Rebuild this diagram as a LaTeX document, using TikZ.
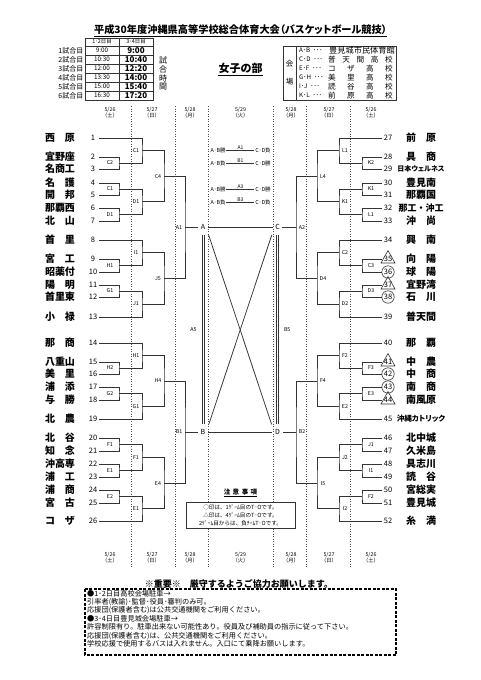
\documentclass[tikz,border=0pt]{standalone}
\usepackage{fontspec}
\setmainfont{Noto Sans CJK JP}
\newfontfamily\jpp{Noto Sans CJK JP}[RawFeature=+palt]
\usetikzlibrary{calc}
\tikzset{
  br/.style={line width=0.75pt, draw=black!80},
  dsh/.style={line width=0.55pt, draw=black!70, dash pattern=on 1.4pt off 1.1pt},
  num/.style={font=\fontsize{7.5}{8}\selectfont, inner sep=0pt},
  tname/.style={font=\fontsize{10}{10}\selectfont\bfseries, inner sep=0pt},
  lab/.style={font=\fontsize{5.3}{6}\selectfont, inner sep=0pt},
  cl/.style={font=\fontsize{7}{7}\selectfont, inner sep=2.5pt},
  dt/.style={font=\fontsize{5.3}{6.2}\selectfont, align=center, inner sep=0pt},
  sm/.style={font=\fontsize{5.4}{6}\selectfont, inner sep=0.8pt},
  mk/.style={line width=0.6pt, draw=black!80},
  tb/.style={line width=0.6pt, draw=black!80},
}
\newcommand\team[5][]{%
  \coordinate (#2) at ({mx(99)},#3);
  \node[num] (#2n) at ({mx(93)},#3) {#4};
  \node[tname,#1] (#2m) at ({mx(60)},#3) {#5};}
\newcommand\match[6]{%
  \path (#3) -- (#4) coordinate[midway] (#1mid);
  \coordinate (#1x) at ({mx(#2)},0);
  \coordinate (#1) at (#1mid -| #1x);
  \draw[br] (#3) -| (#1) |- (#4);
  \coordinate (#1lx) at ({mx(#6)},0);
  \node[lab] (#1l) at (#1mid -| #1lx) {#5};}
\begin{document}
\begin{tikzpicture}[x=1pt,y=-1pt]
\fill[white] (0,0) rectangle (481,680);
\useasboundingbox (0,0) rectangle (481,680);

% ---------- title ----------
\node[font=\jpp\fontsize{10.2}{11}\selectfont\bfseries, inner sep=0pt] (title) at (240.5,29.5) {平成30年度沖縄県高等学校総合体育大会（バスケットボール競技）};
\draw[line width=0.6pt] ([yshift=-1.2pt]title.south west) -- ([yshift=-1.2pt]title.south east);

% ---------- time table ----------
\draw[tb] (85,38) rectangle (153,100);
\draw[tb] (119,38) -- (119,100);
\foreach \yy in {46,55,64,73,82,91} \draw[tb, line width=0.45pt] (85,\yy) -- (153,\yy);
\node[sm] (h1) at (102,42) {1･2日目};
\node[sm] (h2) at (136,42) {3･4日目};
\foreach \i/\a/\b in {1/9:00/9:00, 2/10:30/10:40, 3/12:00/12:20, 4/13:30/14:00, 5/15:00/15:40, 6/16:30/17:20}{
  \node[anchor=east, inner sep=0pt, font=\fontsize{7}{7}\selectfont] (rl\i) at (83.5,{41.5+9*\i}) {{\i}試合目};
  \node[inner sep=0pt, font=\fontsize{6.3}{7}\selectfont] (ta\i) at (102,{41.5+9*\i}) {\a};
  \node[inner sep=0pt, font=\fontsize{8}{8}\selectfont\bfseries] (tb\i) at (136,{41.5+9*\i}) {\b};
}
\foreach \c [count=\k] in {試,合,時,間}
  \node[inner sep=0pt, font=\fontsize{8}{8}\selectfont] (sj\k) at (163,{51+9*\k}) {\c};

% ---------- heading ----------
\node[font=\fontsize{11}{11}\selectfont\bfseries, inner sep=0pt] (joshi) at (240.5,68.5) {女子の部};
\draw[line width=0.8pt] ([yshift=-1.5pt]joshi.south west) -- ([yshift=-1.5pt]joshi.south east);

% ---------- venue box ----------
\draw[tb] (283,46) rectangle (396,100);
\draw[tb] (296,46) -- (296,100);
\node[inner sep=0pt, font=\fontsize{7.5}{8}\selectfont] (kai) at (289.5,64) {会};
\node[inner sep=0pt, font=\fontsize{7.5}{8}\selectfont] (jo) at (289.5,82) {場};
\foreach \lab [count=\k] in {A･B,C･D,E･F,G･H,I･J,K･L}
  \node[anchor=west, inner sep=0pt, font=\fontsize{6.2}{7}\selectfont] (vl\k) at (299,{41.5+9*\k}) {{\lab}\hspace{3pt}･･･};
\node[anchor=west, inner sep=0pt, font=\fontsize{8.2}{8}\selectfont] (v1) at (329,50.5) {豊見城市民体育館};
\foreach \c [count=\j] in {普,天,間,高,校}
  \node[inner sep=0pt, font=\fontsize{7.6}{8}\selectfont] (v2\j) at ({332+14.25*(\j-1)},59.5) {\c};
\foreach \r/\a/\b [count=\k from 3] in {68.5/コ/ザ, 77.5/美/里, 86.5/読/谷, 95.5/前/原}{
  \node[inner sep=0pt, font=\fontsize{7.6}{8}\selectfont] (v\k a) at (332,\r) {\a};
  \node[inner sep=0pt, font=\fontsize{7.6}{8}\selectfont] (v\k b) at (351,\r) {\b};
  \node[inner sep=0pt, font=\fontsize{7.6}{8}\selectfont] (v\k c) at (370,\r) {高};
  \node[inner sep=0pt, font=\fontsize{7.6}{8}\selectfont] (v\k d) at (389,\r) {校};
}

% ---------- dashed day lines ----------
\foreach \xx in {131,175,208,273,306,350} \draw[dsh] (\xx,106) -- (\xx,568);

% ---------- dates ----------
\foreach \xx/\d/\w [count=\k] in {110/26/土, 152/27/日, 190/28/月, 240.5/29/火, 291/28/月, 329/27/日, 371/26/土}{
  \node[dt] (dt\k) at (\xx,113) {5/{\d}\\（{\w}）};
  \node[dt] (db\k) at (\xx,558) {5/{\d}\\（{\w}）};
}

% ---------- left bracket ----------
\begin{scope}[declare function={mx(\x)=\x;}]
\team{L1}{138}{1}{西　原}
\team{L2}{157}{2}{宜野座}
\team{L3}{169}{3}{名商工}
\team{L4}{183}{4}{名　護}
\team{L5}{195}{5}{開　邦}
\team{L6}{208}{6}{那覇西}
\team{L7}{221}{7}{北　山}
\team{L8}{240}{8}{首　里}
\team{L9}{259}{9}{宮　工}
\team{L10}{272}{10}{昭薬付}
\team{L11}{285}{11}{陽　明}
\team{L12}{297}{12}{首里東}
\team{L13}{317}{13}{小　禄}
\team{L14}{343}{14}{那　商}
\team{L15}{362}{15}{八重山}
\team{L16}{374}{16}{美　里}
\team{L17}{387}{17}{浦　添}
\team{L18}{400}{18}{与　勝}
\team{L19}{419}{19}{北　農}
\team{L20}{438}{20}{北　谷}
\team{L21}{451}{21}{知　念}
\team{L22}{464}{22}{沖高専}
\team{L23}{477}{23}{浦　工}
\team{L24}{490}{24}{浦　商}
\team{L25}{503}{25}{宮　古}
\team{L26}{521}{26}{コ　ザ}
\match{Lp1}{119}{L2}{L3}{C2}{110}
\match{Lp2}{119}{L4}{L5}{C1}{110}
\match{Lp3}{119}{L6}{L7}{D1}{110}
\match{Lp4}{119}{L9}{L10}{H1}{110}
\match{Lp5}{119}{L11}{L12}{G1}{110}
\match{Lp6}{119}{L15}{L16}{H2}{110}
\match{Lp7}{119}{L17}{L18}{G2}{110}
\match{Lp8}{119}{L20}{L21}{F1}{110}
\match{Lp9}{119}{L22}{L23}{E1}{110}
\match{Lp10}{119}{L24}{L25}{E2}{110}
\match{Lg1}{142}{L1}{Lp1}{C1}{136}
\match{Lg2}{142}{Lp2}{Lp3}{D1}{136}
\match{Lg3}{142}{L8}{Lp4}{I1}{136}
\match{Lg4}{142}{Lp5}{L13}{J1}{136}
\match{Lg5}{142}{L14}{Lp6}{H1}{136}
\match{Lg6}{142}{Lp7}{L19}{G1}{136}
\match{Lg7}{142}{Lp8}{Lp9}{F1}{136}
\match{Lg8}{142}{Lp10}{L26}{E1}{136}
\match{Lq1}{164}{Lg1}{Lg2}{C4}{158}
\match{Lq2}{164}{Lg3}{Lg4}{J5}{158}
\match{Lq3}{164}{Lg5}{Lg6}{H4}{158}
\match{Lq4}{164}{Lg7}{Lg8}{E4}{158}
\match{Ls1}{185}{Lq1}{Lq2}{A1}{179}
\match{Ls2}{185}{Lq3}{Lq4}{B1}{179}
\end{scope}

% ---------- right bracket ----------
\begin{scope}[declare function={mx(\x)=481-\x;}]
\team{R27}{138}{27}{前　原}
\team{R28}{157}{28}{具　商}
\team[font=\jpp\fontsize{7}{7}\selectfont\bfseries]{R29}{169}{29}{日本ウェルネス}
\team{R30}{183}{30}{豊見南}
\team{R31}{195}{31}{那覇国}
\team[font=\fontsize{9}{9}\selectfont\bfseries]{R32}{208}{32}{那工・沖工}
\team{R33}{221}{33}{沖　尚}
\team{R34}{240}{34}{興　南}
\team{R35}{259}{35}{向　陽}
\team{R36}{272}{36}{球　陽}
\team{R37}{285}{37}{宜野湾}
\team{R38}{297}{38}{石　川}
\team{R39}{317}{39}{普天間}
\team{R40}{343}{40}{那　覇}
\team{R41}{362}{41}{中　農}
\team{R42}{374}{42}{中　商}
\team{R43}{387}{43}{南　商}
\team{R44}{400}{44}{南風原}
\team[font=\jpp\fontsize{7.6}{7.6}\selectfont\bfseries]{R45}{419}{45}{沖縄カトリック}
\team{R46}{438}{46}{北中城}
\team{R47}{451}{47}{久米島}
\team{R48}{464}{48}{具志川}
\team{R49}{477}{49}{読　谷}
\team{R50}{490}{50}{宮総実}
\team{R51}{503}{51}{豊見城}
\team{R52}{521}{52}{糸　満}
\match{Rp1}{119}{R28}{R29}{K2}{110}
\match{Rp2}{119}{R30}{R31}{K1}{110}
\match{Rp3}{119}{R32}{R33}{L1}{110}
\match{Rp4}{119}{R35}{R36}{C3}{110}
\match{Rp5}{119}{R37}{R38}{D3}{110}
\match{Rp6}{119}{R41}{R42}{F3}{110}
\match{Rp7}{119}{R43}{R44}{E3}{110}
\match{Rp8}{119}{R46}{R47}{J1}{110}
\match{Rp9}{119}{R48}{R49}{I1}{110}
\match{Rp10}{119}{R50}{R51}{F2}{110}
\match{Rg1}{142}{R27}{Rp1}{L1}{136}
\match{Rg2}{142}{Rp2}{Rp3}{K1}{136}
\match{Rg3}{142}{R34}{Rp4}{C2}{136}
\match{Rg4}{142}{Rp5}{R39}{D2}{136}
\match{Rg5}{142}{R40}{Rp6}{F2}{136}
\match{Rg6}{142}{Rp7}{R45}{E2}{136}
\match{Rg7}{142}{Rp8}{Rp9}{J2}{136}
\match{Rg8}{142}{Rp10}{R52}{I2}{136}
\match{Rq1}{164}{Rg1}{Rg2}{L4}{158}
\match{Rq2}{164}{Rg3}{Rg4}{D4}{158}
\match{Rq3}{164}{Rg5}{Rg6}{F4}{158}
\match{Rq4}{164}{Rg7}{Rg8}{I5}{158}
\match{Rs1}{185}{Rq1}{Rq2}{A2}{179}
\match{Rs2}{185}{Rq3}{Rq4}{B2}{179}
\end{scope}

% ---------- T.O. marks ----------
\draw[mk] (R36n) circle (6.2pt);
\draw[mk] (R38n) circle (6.2pt);
\draw[mk] (R42n) circle (6.2pt);
\draw[mk] (R43n) circle (6.2pt);
\draw[mk] ($(R35n)+(0,-8.5)$) -- ++(7,12.5) -- ++(-14,0) -- cycle;
\draw[mk] ($(R37n)+(0,-8.5)$) -- ++(7,12.5) -- ++(-14,0) -- cycle;
\draw[mk] ($(R41n)+(0,-8.5)$) -- ++(7,12.5) -- ++(-14,0) -- cycle;
\draw[mk] ($(R44n)+(0,-8.5)$) -- ++(7,12.5) -- ++(-14,0) -- cycle;

% ---------- final league ----------
\node[cl] (A) at (203,227.25) {A};
\node[cl] (C) at (277.5,227.25) {C};
\node[cl] (B) at (203,432) {B};
\node[cl] (D) at (277.5,432) {D};
\draw[br] (Ls1) -- (A);
\draw[br] (Rs1) -- (C);
\draw[br] (Ls2) -- (B);
\draw[br] (Rs2) -- (D);
\draw[br] (A) -- (C);
\draw[br] (B) -- (D);
\draw[br, line width=0.6pt, shorten <=2.5pt, shorten >=2.5pt] ([xshift=-1.2pt]A.south) -- ([xshift=-1.2pt]B.north) node[midway, lab, left=5pt] (a5) {A5};
\draw[br, line width=0.6pt, shorten <=2.5pt, shorten >=2.5pt] ([xshift=1.2pt]A.south) -- ([xshift=1.2pt]B.north);
\draw[br, line width=0.6pt, shorten <=2.5pt, shorten >=2.5pt] ([xshift=-1.2pt]C.south) -- ([xshift=-1.2pt]D.north);
\draw[br, line width=0.6pt, shorten <=2.5pt, shorten >=2.5pt] ([xshift=1.2pt]C.south) -- ([xshift=1.2pt]D.north) node[midway, lab, right=5pt] (b5) {B5};
\draw[br, shorten <=2.5pt, shorten >=2.5pt] (A.south east) -- (D.north west);
\draw[br, shorten <=2.5pt, shorten >=2.5pt] (C.south west) -- (B.north east);

% ---------- league schedule ----------
\foreach \yy/\l/\r/\g [count=\k] in {150/勝/負/A1, 163/負/勝/B1, 189/勝/勝/A3, 202/負/負/B3}{
  \node[sm] (sa\k) at (218,\yy) {A･B{\l}};
  \node[sm] (sb\k) at (263,\yy) {C･D{\r}};
  \draw[br, line width=0.6pt] (sa\k) -- (sb\k) node[midway, above, inner sep=0.6pt, font=\fontsize{5}{5}\selectfont] (sg\k) {\g};
}

% ---------- notes (centre) ----------
\node[font=\fontsize{6.5}{7}\selectfont\bfseries, inner sep=0pt] (chu) at (240.5,492) {注\hspace{2.5pt}意\hspace{2.5pt}事\hspace{2.5pt}項};
\draw[line width=0.5pt] ([yshift=-1pt]chu.south west) -- ([yshift=-1pt]chu.south east);
\node[draw=black!80, line width=0.6pt, fill=white, minimum width=109pt, minimum height=26pt, align=center, inner sep=0pt, font=\fontsize{5.6}{8}\selectfont] (nbox) at (240.5,515) {○印は、1ｹﾞｰﾑ目のT･Oです。\\△印は、4ｹﾞｰﾑ目のT･Oです。\\2ｹﾞｰﾑ目からは、負ﾁｰﾑT･Oです。};

% ---------- bottom notice ----------
\node[font=\fontsize{9}{10}\selectfont\bfseries, inner sep=0pt] (imp) at (239,584) {※重要※　厳守するようご協力お願いします。};
\draw[line width=1.1pt, dash pattern=on 3pt off 1.5pt] (85,589) rectangle (396,655);
\node[anchor=north west, align=left, inner sep=0pt, font=\fontsize{7.2}{8.45}\selectfont] (notes) at (87,589.8) {●1･2日目高校会場駐車→\\引率者(教諭)･監督･役員･審判のみ可。\\応援団(保護者含む)は公共交通機関をご利用ください。\\●3･4日目豊見城会場駐車→\\許容制限有り。駐車出来ない可能性あり。役員及び補助員の指示に従って下さい。\\応援団(保護者含む)は、公共交通機関をご利用ください。\\学校応援で使用するバスは入れません。入口にて乗降お願いします。};
\end{tikzpicture}
\end{document}
